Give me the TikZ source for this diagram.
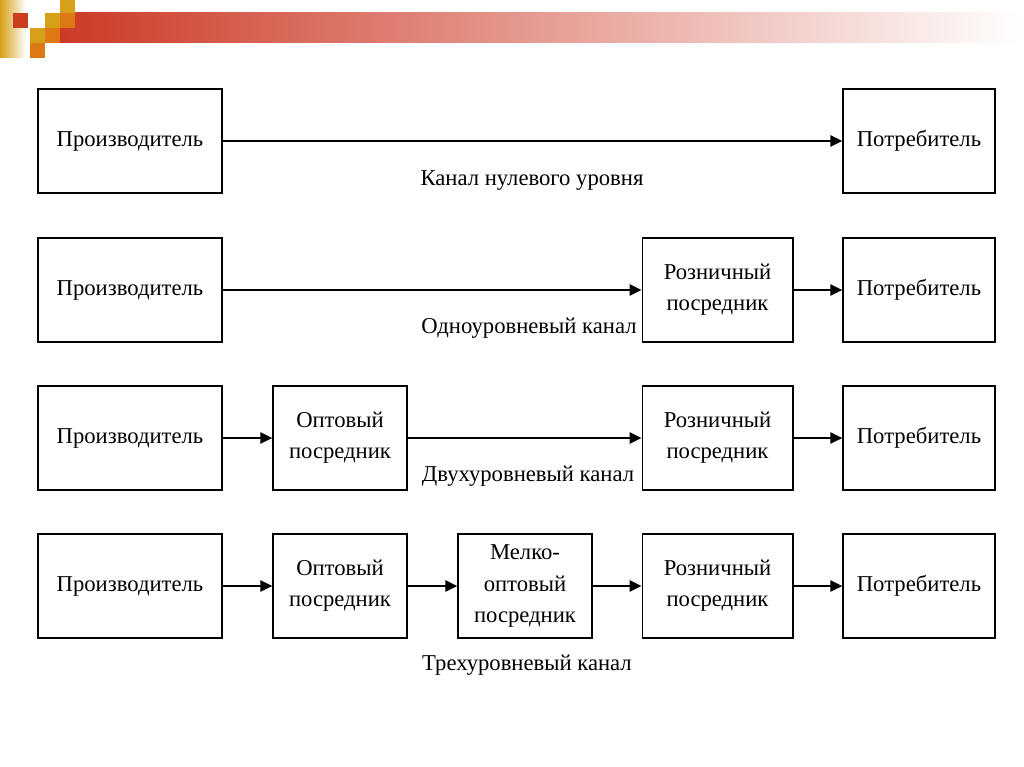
\documentclass[tikz,border=0pt]{standalone}
\usepackage{fontspec}
\setmainfont{Liberation Serif}
\usetikzlibrary{arrows.meta}
\definecolor{barred}{RGB}{204,58,38}
\definecolor{sqgold}{RGB}{214,160,24}
\definecolor{sqorange}{RGB}{222,120,20}
\definecolor{sqred}{RGB}{204,60,30}

\begin{document}
\begin{tikzpicture}[x=0.75pt,y=-0.75pt,
    box/.style={draw,line width=1pt,inner sep=0pt,align=center,
      font=\fontsize{17}{23.3}\selectfont},
    chan/.style={font=\fontsize{17}{23.3}\selectfont},
    flow/.style={line width=1.4pt,-{Triangle[length=9pt,width=8.5pt]}}]
    \useasboundingbox (0,0) rectangle (1024,767);
    % header bar and squares
    \shade[left color=barred,right color=white] (60,13) rectangle (1024,43);
    \shade[left color=sqgold,right color=white] (0,0) rectangle (26,58);
    \fill[sqred]    (13,13) rectangle (28,28);
    \fill[sqgold]   (45,13) rectangle (60,28);
    \fill[sqgold]   (60,0)  rectangle (75,13);
    \fill[sqorange] (60,13) rectangle (75,28);
    \fill[sqgold]   (30,28) rectangle (45,43);
    \fill[sqorange] (45,28) rectangle (60,43);
    \fill[sqorange] (30,43) rectangle (45,58);
    % zero level
    \node[box,minimum width=138pt,minimum height=78pt] (prod1) at (130,141) {Производитель};
    \node[box,minimum width=114pt,minimum height=78pt] (cons1) at (919,141) {Потребитель};
    \draw[flow] (prod1) -- (cons1);
    \node[chan] (lbl1) at (532,181) {Канал нулевого уровня};
    % one level
    \node[box,minimum width=138pt,minimum height=78pt] (prod2) at (130,290) {Производитель};
    \node[box,minimum width=113pt,minimum height=78pt] (ret2) at (717.5,290) {Розничный\\посредник};
    \node[box,minimum width=114pt,minimum height=78pt] (cons2) at (919,290) {Потребитель};
    \draw[flow] (prod2) -- (ret2);
    \draw[flow] (ret2) -- (cons2);
    \node[chan] (lbl2) at (529,328) {Одноуровневый канал};
    % two levels
    \node[box,minimum width=138pt,minimum height=78pt] (prod3) at (130,438) {Производитель};
    \node[box,minimum width=100.5pt,minimum height=78pt] (whl3) at (340,438) {Оптовый\\посредник};
    \node[box,minimum width=113pt,minimum height=78pt] (ret3) at (717.5,438) {Розничный\\посредник};
    \node[box,minimum width=114pt,minimum height=78pt] (cons3) at (919,438) {Потребитель};
    \draw[flow] (prod3) -- (whl3);
    \draw[flow] (whl3) -- (ret3);
    \draw[flow] (ret3) -- (cons3);
    \node[chan] (lbl3) at (528,476) {Двухуровневый канал};
    % three levels
    \node[box,minimum width=138pt,minimum height=78pt] (prod4) at (130,586) {Производитель};
    \node[box,minimum width=100.5pt,minimum height=78pt] (whl4) at (340,586) {Оптовый\\посредник};
    \node[box,minimum width=100.5pt,minimum height=78pt] (small4) at (525,586) {Мелко-\\оптовый\\посредник};
    \node[box,minimum width=113pt,minimum height=78pt] (ret4) at (717.5,586) {Розничный\\посредник};
    \node[box,minimum width=114pt,minimum height=78pt] (cons4) at (919,586) {Потребитель};
    \draw[flow] (prod4) -- (whl4);
    \draw[flow] (whl4) -- (small4);
    \draw[flow] (small4) -- (ret4);
    \draw[flow] (ret4) -- (cons4);
    \node[chan] (lbl4) at (527,665) {Трехуровневый канал};
\end{tikzpicture}
\end{document}
